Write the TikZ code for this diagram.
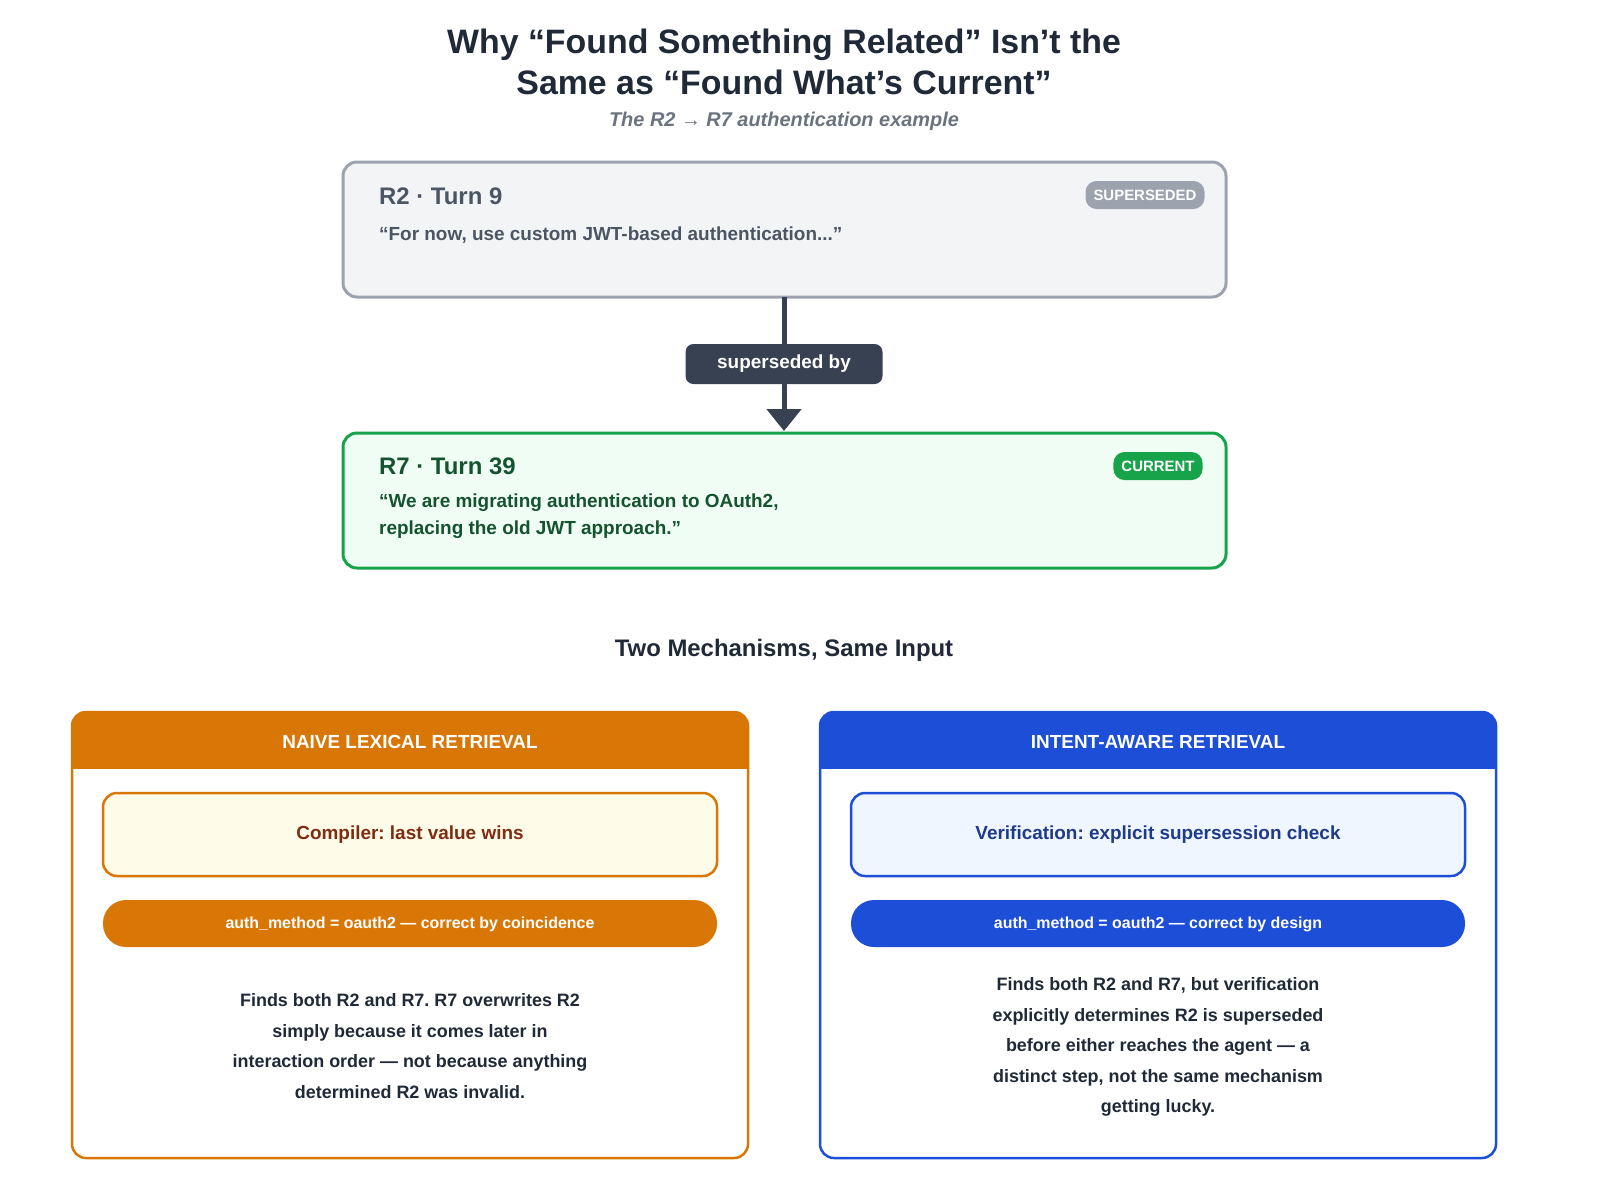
\documentclass[tikz,border=0pt]{standalone}
\usepackage{fontspec}
\setmainfont{Liberation Sans}
\frenchspacing
\usetikzlibrary{arrows.meta}
\definecolor{ink}{HTML}{1F2937}
\definecolor{gr}{HTML}{6B7280}
\definecolor{grb}{HTML}{9CA3AF}
\definecolor{grf}{HTML}{F3F4F6}
\definecolor{grt}{HTML}{4B5563}
\definecolor{dk}{HTML}{374151}
\definecolor{gn}{HTML}{16A34A}
\definecolor{gnf}{HTML}{F0FDF4}
\definecolor{gnt}{HTML}{14532D}
\definecolor{or}{HTML}{D97706}
\definecolor{orf}{HTML}{FEFBE8}
\definecolor{ort}{HTML}{7C2D12}
\definecolor{bl}{HTML}{1D4ED8}
\definecolor{blf}{HTML}{EFF6FF}
\definecolor{blt}{HTML}{1E3A8A}
\tikzset{
  fs/.style={font=\fontsize{#1}{#1}\selectfont\bfseries},
  card/.style={line width=3bp, rounded corners=14bp},
  badge/.style={rounded corners=11bp, inner xsep=8bp, minimum height=28bp, text=white, fs=15},
  para/.style={align=center, text=ink, font=\fontsize{18}{30.5}\selectfont\bfseries},
}
\begin{document}
\begin{tikzpicture}[x=1bp,y=-1bp]
\useasboundingbox (0,0) rectangle (1600,1202);
\fill[white] (0,0) rectangle (1600,1202);
% title
\node[fs=34, text=ink] (t1) at (784,45) {Why “Found Something Related” Isn’t the};
\node[fs=34, text=ink] (t2) at (784,82) {Same as “Found What’s Current”};
\node[font=\fontsize{20}{20}\selectfont\bfseries\itshape, text=gr] (st) at (784,121) {The R2 → R7 authentication example};
% R2
\draw[card, draw=grb, fill=grf] (343,162) rectangle (1226,297);
\node[anchor=west, inner sep=0pt, fs=24, text=grt] (r2t) at (379,196) {R2 · Turn 9};
\node[anchor=west, inner sep=0pt, fs=19, text=grt] (r2q) at (379,235) {“For now, use custom JWT-based authentication...”};
\node[badge, fill=grb] (b2) at (1145,195) {SUPERSEDED};
\coordinate (r2b) at (784,297);
% R7
\draw[card, draw=gn, fill=gnf] (343,433) rectangle (1226,568);
\coordinate (r7top) at (784,431);
\node[anchor=west, inner sep=0pt, fs=24, text=gnt] (r7t) at (379,466) {R7 · Turn 39};
\node[anchor=north west, align=left, text=gnt, font=\fontsize{19}{27}\selectfont\bfseries, inner sep=0pt] (r7q) at (379,494) {“We are migrating authentication to OAuth2,\\replacing the old JWT approach.”};
\node[badge, fill=gn] (b7) at (1158,466) {CURRENT};
% connector
\draw[line width=5bp, dk, -{Triangle[length=22bp,width=34bp]}] (r2b) -- (r7top);
\node[fill=dk, rounded corners=8bp, minimum width=197bp, minimum height=40bp, text=white, fs=19] (sb) at (784,364) {superseded by};
% section
\node[fs=24, text=ink] (sec) at (784,650) {Two Mechanisms, Same Input};
% left panel
\begin{scope}
\clip[rounded corners=14bp] (72,712) rectangle (748,1158);
\fill[white] (72,712) rectangle (748,1158);
\fill[or] (72,712) rectangle (748,769);
\end{scope}
\draw[card, draw=or, line width=2.5bp] (72,712) rectangle (748,1158);
\node[text=white, fs=19] (lh) at (410,742) {NAIVE LEXICAL RETRIEVAL};
\draw[card, draw=or, fill=orf, line width=2.5bp] (103,793) rectangle (717,876);
\node[text=ort, fs=19] (lc) at (410,835) {Compiler: last value wins};
\fill[or, rounded corners=23bp] (103,900) rectangle (717,947);
\node[text=white, fs=16] (lp) at (410,924) {auth\_method = oauth2 — correct by coincidence};
\node[para] (lt) at (410,1046) {Finds both R2 and R7. R7 overwrites R2\\simply because it comes later in\\interaction order — not because anything\\determined R2 was invalid.};
% right panel
\begin{scope}
\clip[rounded corners=14bp] (820,712) rectangle (1496,1158);
\fill[white] (820,712) rectangle (1496,1158);
\fill[bl] (820,712) rectangle (1496,769);
\end{scope}
\draw[card, draw=bl, line width=2.5bp] (820,712) rectangle (1496,1158);
\node[text=white, fs=19] (rh) at (1158,742) {INTENT-AWARE RETRIEVAL};
\draw[card, draw=bl, fill=blf, line width=2.5bp] (851,793) rectangle (1465,876);
\node[text=blt, fs=19] (rc) at (1158,835) {Verification: explicit supersession check};
\fill[bl, rounded corners=23bp] (851,900) rectangle (1465,947);
\node[text=white, fs=16] (rp) at (1158,924) {auth\_method = oauth2 — correct by design};
\node[para] (rt) at (1158,1047) {Finds both R2 and R7, but verification\\explicitly determines R2 is superseded\\before either reaches the agent — a\\distinct step, not the same mechanism\\getting lucky.};
\end{tikzpicture}
\end{document}
